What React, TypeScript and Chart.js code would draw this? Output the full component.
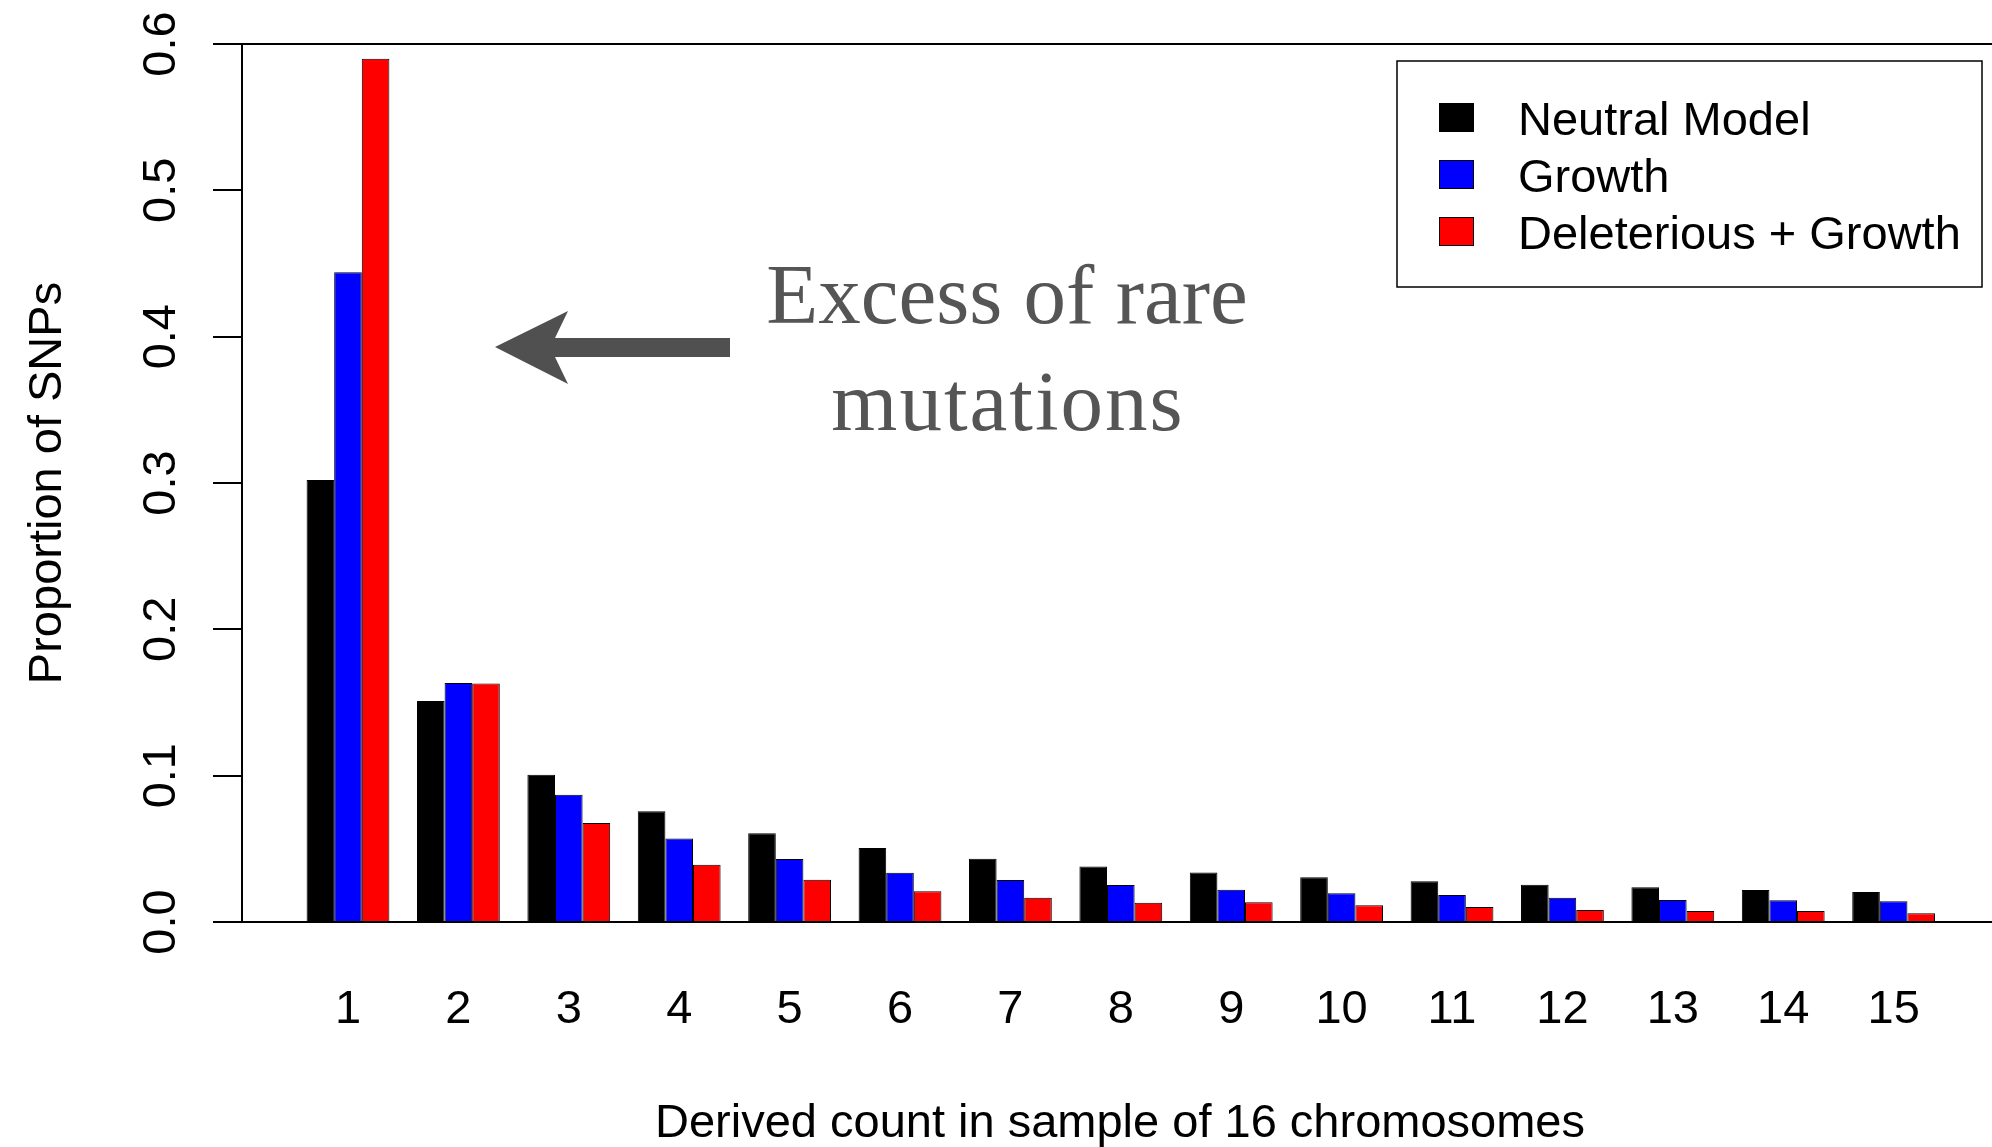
import React, { useEffect, useRef } from "react";
import { Chart, registerables } from "chart.js";

Chart.register(...registerables);

const categories = [1, 2, 3, 4, 5, 6, 7, 8, 9, 10, 11, 12, 13, 14, 15];
const neutralModel = [0.302, 0.151, 0.1007, 0.0756, 0.0606, 0.0506, 0.0433, 0.038, 0.0339, 0.0305, 0.0278, 0.0255, 0.0237, 0.0219, 0.0205];
const growth = [0.444, 0.1633, 0.087, 0.057, 0.0431, 0.0337, 0.0287, 0.0253, 0.0221, 0.0196, 0.0185, 0.0166, 0.015, 0.0148, 0.0141];
const deleteriousGrowth = [0.59, 0.1629, 0.0677, 0.0392, 0.0289, 0.021, 0.0166, 0.0132, 0.0135, 0.0114, 0.0103, 0.0082, 0.0075, 0.0075, 0.0059];
const yTicks = [0, 0.1, 0.2, 0.3, 0.4, 0.5, 0.6];
const yTickLabels = ["0.0", "0.1", "0.2", "0.3", "0.4", "0.5", "0.6"];
const seriesNames = ["Neutral Model", "Growth", "Deleterious + Growth"];
const seriesColors = ["#000000", "#0000ff", "#ff0000"];
const xTitle = "Derived count in sample of 16 chromosomes";
const yTitle = "Proportion of SNPs";
const noteLines = ["Excess of rare", "mutations"];

const SANS = "'Liberation Sans', Arial, Helvetica, sans-serif";
const SERIF = "'Liberation Serif', 'Times New Roman', serif";

const decorPlugin = {
  id: "decor",
  afterDraw(chart: any) {
    const ctx = chart.ctx as CanvasRenderingContext2D;
    const yScale = chart.scales.y;
    const xScale = chart.scales.x;
    ctx.save();
    ctx.fillStyle = "#000";
    ctx.font = `47px ${SANS}`;
    // y tick labels (rotated)
    yScale.ticks.forEach((t: any, i: number) => {
      const y = yScale.getPixelForValue(t.value);
      ctx.save();
      ctx.translate(yScale.left - 38, y);
      ctx.rotate(-Math.PI / 2);
      ctx.textAlign = "center";
      ctx.textBaseline = "alphabetic";
      ctx.fillText(yTickLabels[i], 0, 0);
      ctx.restore();
    });
    // y title
    ctx.save();
    ctx.translate(61, (yScale.top + yScale.bottom) / 2);
    ctx.rotate(-Math.PI / 2);
    ctx.textAlign = "center";
    ctx.textBaseline = "alphabetic";
    ctx.fillText(yTitle, 0, 0);
    ctx.restore();
    // x title
    ctx.textAlign = "center";
    ctx.textBaseline = "alphabetic";
    ctx.fillText(xTitle, (xScale.left + xScale.right) / 2 + 3, 1137);

    // legend
    ctx.lineWidth = 1.5;
    ctx.strokeStyle = "#000";
    ctx.strokeRect(1397, 61, 585, 226);
    ctx.textAlign = "left";
    seriesNames.forEach((name, i) => {
      const top = 103 + i * 57;
      ctx.fillStyle = seriesColors[i];
      ctx.fillRect(1439, top, 35, 29);
      ctx.lineWidth = 1;
      ctx.strokeRect(1439.5, top + 0.5, 34, 28);
      ctx.fillStyle = "#000";
      ctx.fillText(name, 1518, top + 32);
    });

    // annotation arrow
    ctx.fillStyle = "#505050";
    ctx.beginPath();
    ctx.moveTo(495, 347);
    ctx.lineTo(568, 311);
    ctx.lineTo(555, 338);
    ctx.lineTo(730, 338);
    ctx.lineTo(730, 357);
    ctx.lineTo(555, 357);
    ctx.lineTo(568, 384);
    ctx.closePath();
    ctx.fill();

    // annotation text
    ctx.fillStyle = "#555555";
    ctx.font = `85px ${SERIF}`;
    ctx.textAlign = "center";
    ctx.fillText(noteLines[0], 1007, 323);
    (ctx as any).letterSpacing = "2px";
    ctx.fillText(noteLines[1], 1008, 430);
    (ctx as any).letterSpacing = "0px";
    ctx.restore();
  },
};

export default function App() {
  const canvasRef = useRef<HTMLCanvasElement | null>(null);

  useEffect(() => {
    const canvas = canvasRef.current;
    if (!canvas) return;
    const data = [neutralModel, growth, deleteriousGrowth];
    const chart = new Chart(canvas, {
      type: "bar",
      data: {
        datasets: data.map((vals, s) => ({
          label: seriesNames[s],
          data: categories.map((c, i) => ({ x: c, y: vals[i] })),
          backgroundColor: seriesColors[s],
          borderColor: "#000000",
          borderWidth: 1,
          categoryPercentage: 0.75,
          barPercentage: 1.0,
        })),
      },
      options: {
        animation: false,
        responsive: false,
        devicePixelRatio: 1,
        layout: { padding: { left: 213, top: 44, right: 0, bottom: 0 } },
        plugins: {
          legend: { display: false },
          title: { display: false },
          tooltip: { enabled: false },
        },
        scales: {
          x: {
            type: "linear",
            offset: false,
            min: 0.04,
            max: 15.891,
            afterBuildTicks: (scale: any) => {
              scale.ticks = categories.map((c) => ({ value: c }));
            },
            afterFit: (scale: any) => {
              scale.height = 225;
            },
            ticks: {
              autoSkip: false,
              maxRotation: 0,
              minRotation: 0,
              padding: 60,
              color: "#000",
              font: { size: 47, family: SANS },
              callback: (v: any) => String(v),
            },
            grid: { display: false, drawTicks: false, tickLength: 0 },
            border: { display: false },
          },
          y: {
            min: 0,
            max: 0.6,
            afterBuildTicks: (scale: any) => {
              scale.ticks = yTicks.map((v) => ({ value: v }));
            },
            afterFit: (scale: any) => {
              scale.width = 29;
            },
            ticks: { display: false },
            grid: {
              drawOnChartArea: true,
              drawTicks: true,
              tickLength: 29,
              lineWidth: 2,
              tickColor: "#000",
              color: (c: any) =>
                c.tick && (c.tick.value === 0 || c.tick.value === 0.6) ? "#000" : "rgba(0,0,0,0)",
            },
            border: { display: true, color: "#000", width: 2 },
          },
        },
      },
      plugins: [decorPlugin],
    } as any);
    return () => chart.destroy();
  }, []);

  return (
    <canvas
      ref={canvasRef}
      width={1992}
      height={1147}
      style={{ position: "fixed", left: 0, top: 0, width: 1992, height: 1147, display: "block", background: "#fff" }}
    />
  );
}
